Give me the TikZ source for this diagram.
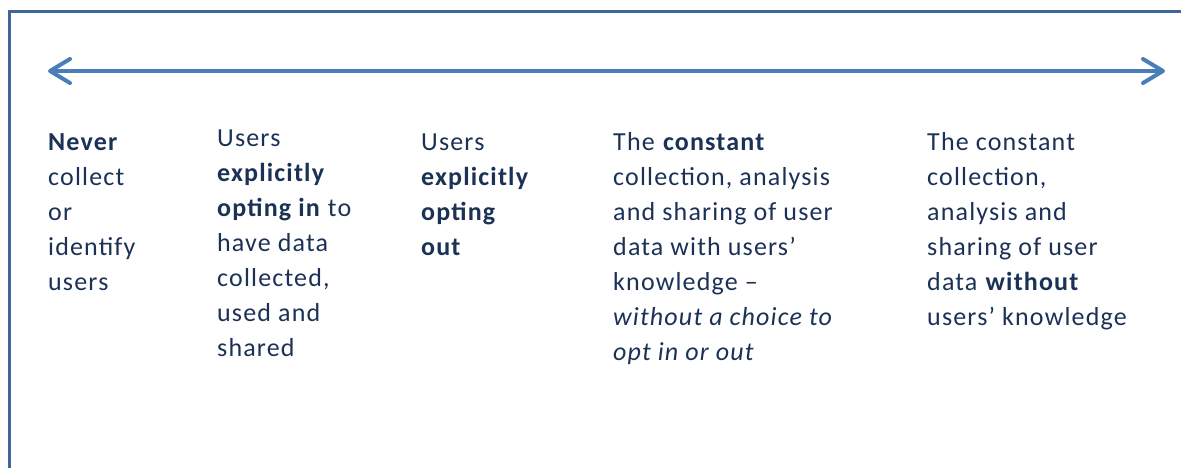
\documentclass[tikz,border=0pt]{standalone}
\usepackage{fontspec}
\setmainfont{Carlito}[LetterSpace=4.5]
\usetikzlibrary{arrows.meta}
\definecolor{framecol}{HTML}{3F6797}
\definecolor{arrowcol}{HTML}{4A7EBB}
\definecolor{textcol}{HTML}{1B3256}
\begin{document}
\begin{tikzpicture}[x=1pt,y=-1pt,
        column/.style={anchor=north west,inner sep=0pt,align=left,text=textcol,
            font=\fontsize{26}{35}\selectfont},
        scale line/.style={draw=arrowcol,line width=4pt,
            {Straight Barb[length=20pt,width=24pt,round]}-{Straight Barb[length=20pt,width=24pt,round]}}]
    \useasboundingbox (0,0) rectangle (1181,468);
    %% frame
    \draw[framecol,line width=3pt] (9,468) |- (1181,11.5);
    %% scale
    \coordinate (most) at (48,71);
    \coordinate (least) at (1165,71);
    \draw[scale line] (most) -- (least);
    %% positions on the scale
    \node[column] (never) at (48,126) {\strut\textbf{Never}\\collect\\or\\identify\\users};
    \node[column] (optin) at (217,122) {\strut Users\\\textbf{explicitly}\\\textbf{opting in} to\\have data\\collected,\\used and\\shared};
    \node[column] (optout) at (421,125.5) {\strut Users\\\textbf{explicitly}\\\textbf{opting}\\\textbf{out}};
    \node[column] (withknow) at (613,125.5) {\strut The \textbf{constant}\\collection, analysis\\and sharing of user\\data with users’\\knowledge --\\\textit{without a choice to}\\\textit{opt in or out}};
    \node[column] (without) at (927,125.5) {\strut The constant\\collection,\\analysis and\\sharing of user\\data \textbf{without}\\users’ knowledge};
\end{tikzpicture}
\end{document}
